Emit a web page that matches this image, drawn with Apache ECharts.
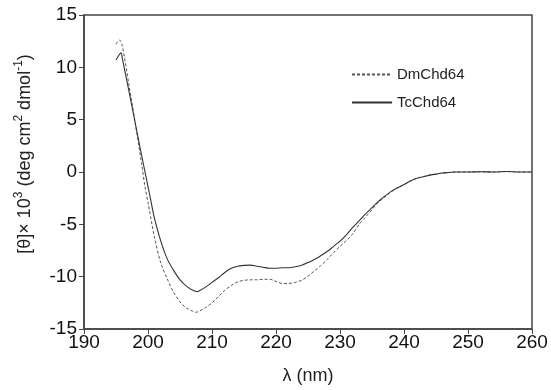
<!DOCTYPE html>
<html><head><meta charset="utf-8">
<script src="https://cdn.jsdelivr.net/npm/echarts@6/dist/echarts.min.js"></script>
<style>html,body{margin:0;padding:0;background:#fff}#c{width:551px;height:390px}</style>
</head><body><div id="c"></div>
<script>
var wavelengthsDm = [195.0,195.3,195.6,196,197,198,199,199.5,200,201,202,203,204,205,206,207,207.5,208,209,210,211,212,213,214,215,216,217,218,219,220,221,222,223,224,225,226,227,228,229,230,231,232,233,234,235,236,237,238,239,240,241,242,243,244,245,246,247,248,250,252,254,256,258,260];
var valuesDm = [12.2,12.5,12.6,12.0,8.4,4.7,0.8,-1.3,-2.9,-6.2,-8.7,-10.2,-11.5,-12.4,-13.0,-13.3,-13.4,-13.3,-12.95,-12.5,-11.9,-11.3,-10.85,-10.5,-10.35,-10.3,-10.3,-10.25,-10.25,-10.45,-10.65,-10.65,-10.55,-10.35,-9.95,-9.45,-8.95,-8.35,-7.7,-7.1,-6.55,-5.9,-5.0,-4.3,-3.6,-2.9,-2.4,-1.9,-1.5,-1.2,-0.85,-0.6,-0.45,-0.3,-0.2,-0.1,-0.05,0,0,0.02,0,0.05,0,0];
var wavelengthsTc = [195.0,195.5,195.8,196,197,198,199,199.7,200,200.5,201,202,203,204,205,206,207,207.7,208,209,210,211,212,213,214,215,216,217,218,219,220,221,222,223,224,225,226,227,228,229,230,231,232,233,234,235,236,237,238,239,240,241,242,243,244,245,246,247,248,250,252,254,256,258,260];
var valuesTc = [10.7,11.2,11.4,10.8,7.8,4.7,1.6,-0.5,-1.4,-2.9,-4.4,-6.6,-8.3,-9.4,-10.3,-10.9,-11.3,-11.43,-11.35,-11.0,-10.55,-10.1,-9.6,-9.2,-9.0,-8.92,-8.9,-9.0,-9.1,-9.2,-9.2,-9.15,-9.15,-9.05,-8.9,-8.65,-8.35,-8.0,-7.6,-7.1,-6.6,-6.0,-5.3,-4.65,-4.0,-3.4,-2.8,-2.3,-1.85,-1.5,-1.2,-0.85,-0.6,-0.45,-0.3,-0.2,-0.1,-0.05,0,0,0.02,0,0.05,0,0];
var xTicks = [190,200,210,220,230,240,250,260];
var yTicks = [-15,-10,-5,0,5,10,15];
var seriesNames = ['DmChd64','TcChd64'];

function pairs(xs, ys){ return xs.map(function(x,i){ return [x, ys[i]]; }); }

var chart = echarts.init(document.getElementById('c'), null, {renderer:'canvas'});
var ff = 'Liberation Sans, Arial, sans-serif';
chart.setOption({
  animation: false,
  backgroundColor: '#fff',
  grid: {left: 84, right: 19, top: 15, bottom: 56, show: true, borderColor: '#444', borderWidth: 1.5, containLabel: false},
  legend: {
    orient: 'vertical', left: 346, top: 62, itemWidth: 40, itemHeight: 14, itemGap: 13,
    itemStyle: {opacity: 0},
    textStyle: {fontFamily: ff, fontSize: 15, color: '#222'},
    data: seriesNames
  },
  xAxis: {
    type: 'value', min: xTicks[0], max: xTicks[xTicks.length-1], interval: 10,
    axisLine: {show: true, onZero: false, lineStyle: {color: '#444', width: 1.5}},
    axisTick: {show: true, length: 5, lineStyle: {color: '#444'}},
    axisLabel: {fontFamily: ff, fontSize: 19, color: '#111', margin: 4},
    splitLine: {show: false},
    name: 'λ (nm)', nameLocation: 'middle', nameGap: 38,
    nameTextStyle: {fontFamily: ff, fontSize: 18, color: '#222'}
  },
  yAxis: {
    type: 'value', min: yTicks[0], max: yTicks[yTicks.length-1], interval: 5,
    axisLine: {show: true, onZero: false, lineStyle: {color: '#444', width: 1.5}},
    axisTick: {show: true, length: 5, lineStyle: {color: '#444'}},
    axisLabel: {fontFamily: ff, fontSize: 19, color: '#111', margin: 7},
    splitLine: {show: false},
    name: '[θ]× 10{s|3} (deg cm{s|2} dmol{s|-1})', nameLocation: 'middle', nameRotate: 90, nameGap: 47,
    nameTextStyle: {fontFamily: ff, fontSize: 18, color: '#222', padding: [0,0,0,36],
      rich: {s: {fontFamily: ff, fontSize: 12, color: '#222', verticalAlign: 'top', padding: [0,0,12,0]}}}
  },
  series: [
    {name: seriesNames[0], type: 'line', data: pairs(wavelengthsDm, valuesDm), showSymbol: false, symbol: 'none', smooth: 0.3,
     lineStyle: {color: '#555', width: 1, type: [3,2]}, itemStyle: {color: '#555'}},
    {name: seriesNames[1], type: 'line', data: pairs(wavelengthsTc, valuesTc), showSymbol: false, symbol: 'none', smooth: 0.3,
     lineStyle: {color: '#333', width: 1.1}, itemStyle: {color: '#333'}}
  ]
});
</script></body></html>
